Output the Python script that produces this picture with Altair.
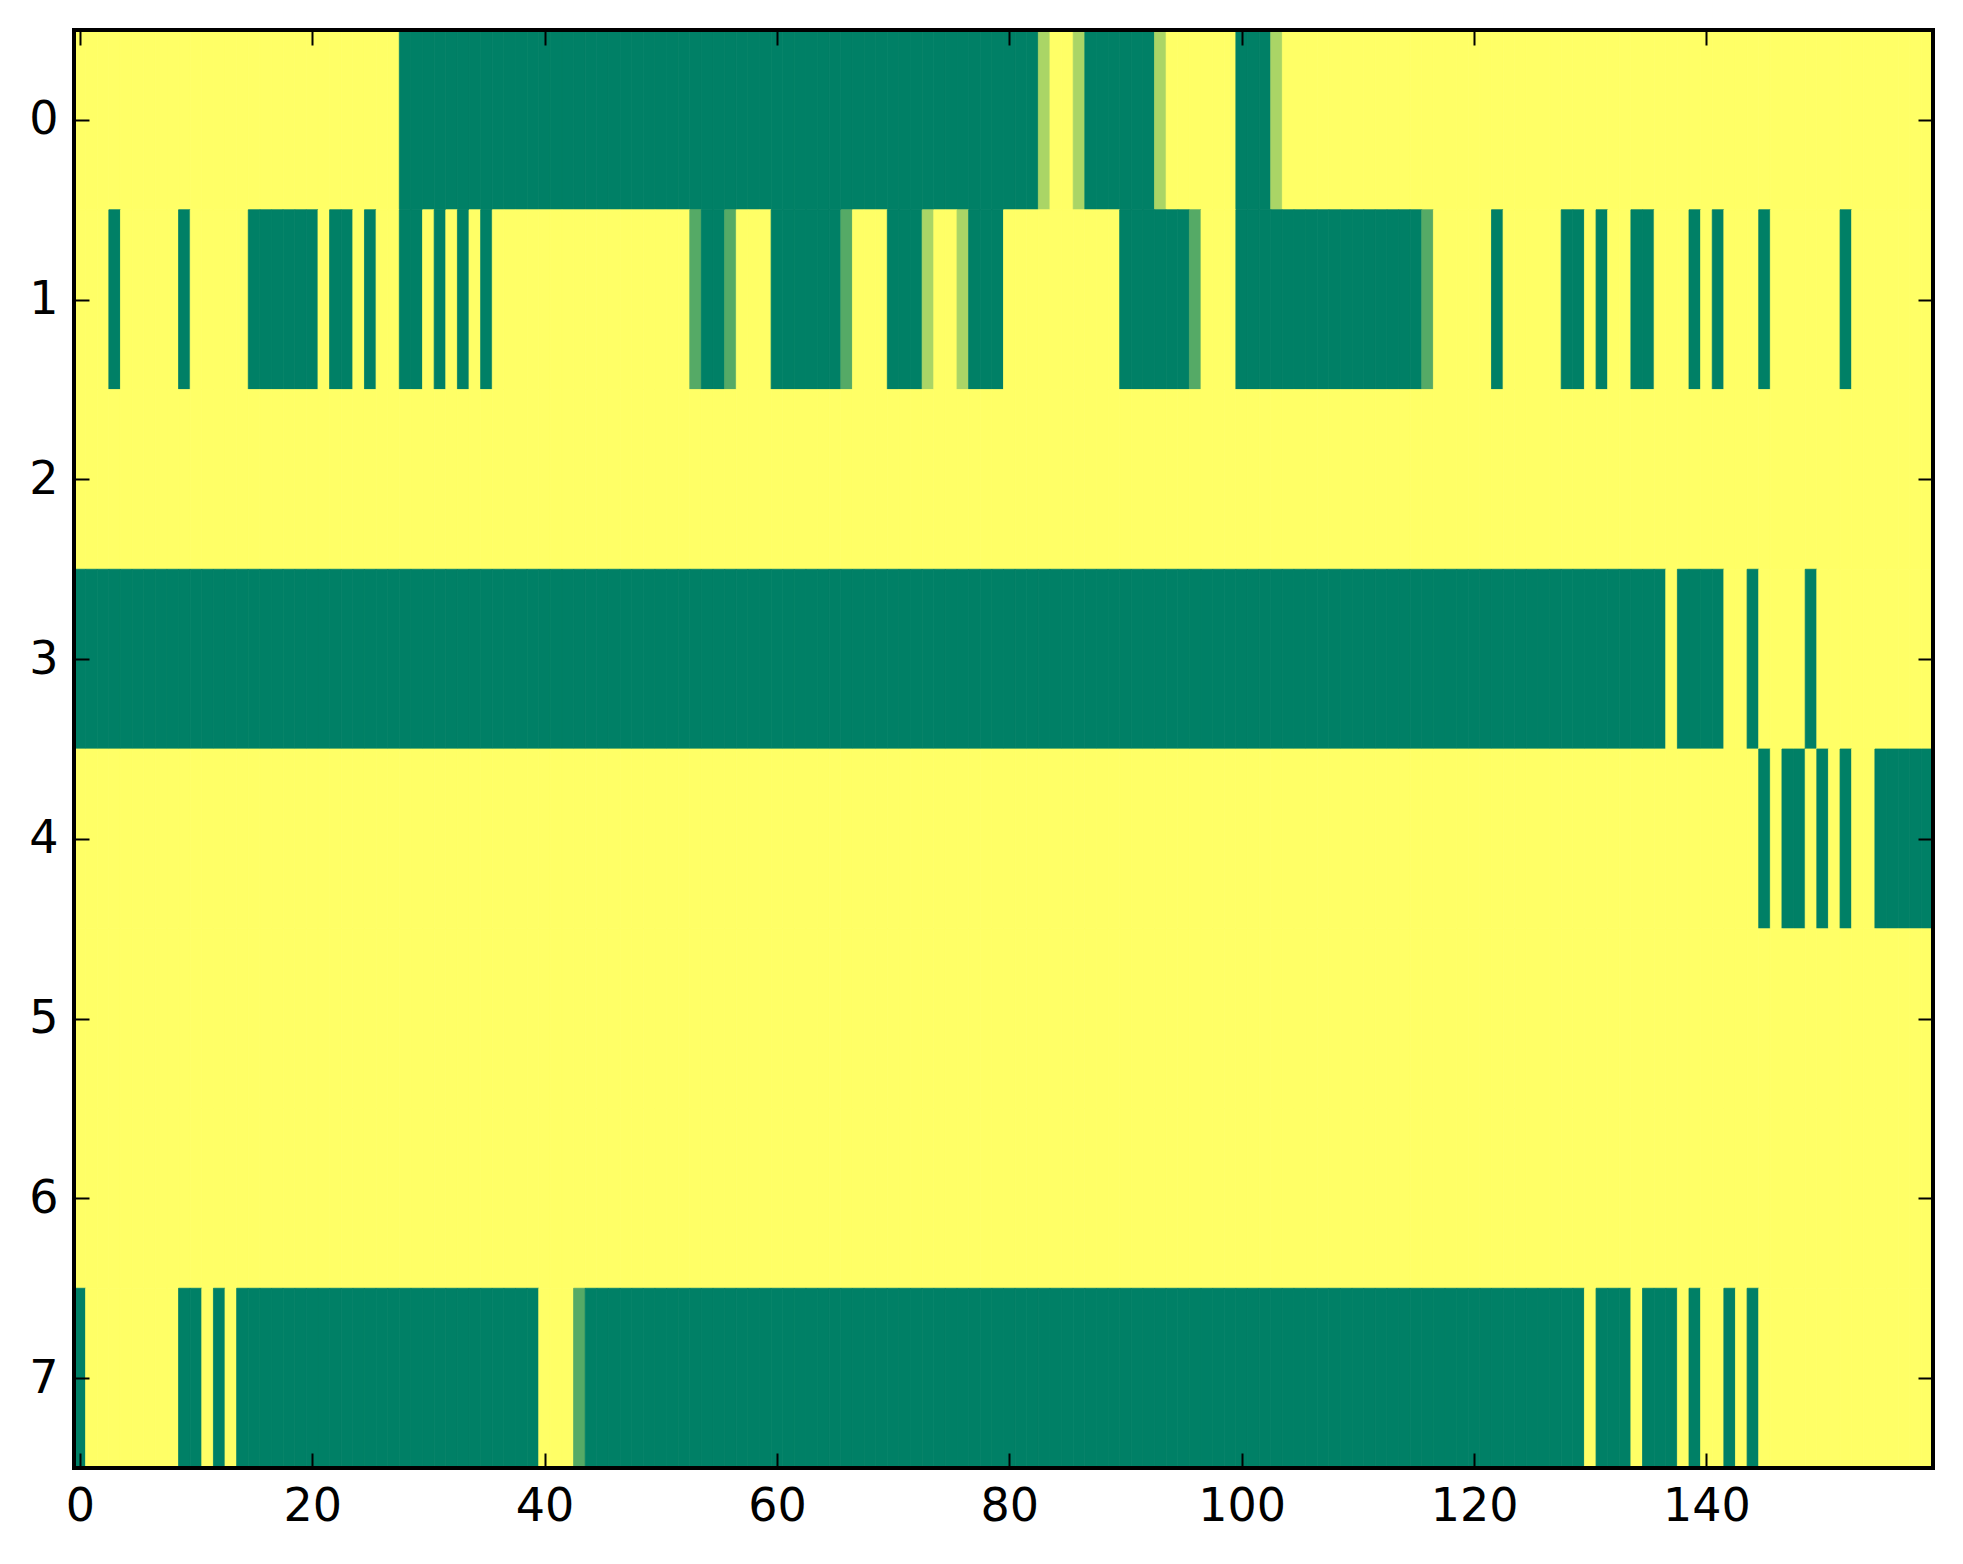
import altair as alt
import pandas as pd

# Cell levels, in thirds: 0 = dark green, 1 = mid green,
# 2 = light green, 3 = yellow.  Ten columns per group, 160 columns per row.
row_0 = ("3333333333 3333333333 3333333300 0000000000 0000000000 0000000000 "
         "0000000000 0000000000 0002332000 0002333333 0002333333 3333333333 "
         "3333333333 3333333333 3333333333 3333333333")
row_1 = ("3330333330 3333300000 0300303300 3030303333 3333333333 3331001333 "
         "0000001333 0002332000 3333333333 0000001333 0000000000 0000001333 "
         "3303333300 3033003330 3033303333 3303333333")
row_2 = ("3333333333 3333333333 3333333333 3333333333 3333333333 3333333333 "
         "3333333333 3333333333 3333333333 3333333333 3333333333 3333333333 "
         "3333333333 3333333333 3333333333 3333333333")
row_3 = ("0000000000 0000000000 0000000000 0000000000 0000000000 0000000000 "
         "0000000000 0000000000 0000000000 0000000000 0000000000 0000000000 "
         "0000000000 0000000300 0033033330 3333333333")
row_4 = ("3333333333 3333333333 3333333333 3333333333 3333333333 3333333333 "
         "3333333333 3333333333 3333333333 3333333333 3333333333 3333333333 "
         "3333333333 3333333333 3333303003 0303300000")
row_5 = ("3333333333 3333333333 3333333333 3333333333 3333333333 3333333333 "
         "3333333333 3333333333 3333333333 3333333333 3333333333 3333333333 "
         "3333333333 3333333333 3333333333 3333333333")
row_6 = ("3333333333 3333333333 3333333333 3333333333 3333333333 3333333333 "
         "3333333333 3333333333 3333333333 3333333333 3333333333 3333333333 "
         "3333333333 3333333333 3333333333 3333333333")
row_7 = ("0333333330 0303000000 0000000000 0000000000 3331000000 0000000000 "
         "0000000000 0000000000 0000000000 0000000000 0000000000 0000000000 "
         "0000000000 3000300030 3303033333 3333333333")

rows = [row_0, row_1, row_2, row_3, row_4, row_5, row_6, row_7]
x_ticks = [0, 20, 40, 60, 80, 100, 120, 140]
y_ticks = [0, 1, 2, 3, 4, 5, 6, 7]
colormap = ["#008066", "#ffff66"]

records = []
for r, s in enumerate(rows):
    for c, ch in enumerate(s.replace(" ", "")):
        records.append({"row": r, "col": c, "value": int(ch) / 3})
df = pd.DataFrame(records)

W, H = 1859, 1438
FONT = "DejaVu Sans"
FS = 46
TL = 15

x_scale = alt.Scale(domain=[-0.5, 159.5], nice=False, zero=False)
y_scale = alt.Scale(domain=[-0.5, 7.5], nice=False, zero=False, reverse=True)
c_scale = alt.Scale(domain=[0, 1], range=colormap, interpolate="rgb")


def axis(orient, values, labels):
    kw = dict(
        orient=orient, values=values, tickSize=TL, offset=-TL, domain=False,
        grid=False, tickColor="black", tickWidth=2, title=None, zindex=2,
        labels=labels,
    )
    if labels:
        kw.update(labelFont=FONT, labelFontSize=FS, labelColor="black",
                  labelPadding=16, labelFlush=False, labelOverlap=False,
                  labelBound=False)
    return alt.Axis(**kw)


heat = alt.Chart(df).transform_calculate(
    x0="datum.col - 0.5", x1="datum.col + 0.5",
    y0="datum.row - 0.5", y1="datum.row + 0.5",
).mark_rect(strokeWidth=0.8).encode(
    x=alt.X("x0:Q", scale=x_scale, axis=axis("bottom", x_ticks, True)),
    x2="x1:Q",
    y=alt.Y("y0:Q", scale=y_scale, axis=axis("left", y_ticks, True)),
    y2="y1:Q",
    color=alt.Color("value:Q", scale=c_scale, legend=None),
    stroke=alt.Stroke("value:Q", scale=c_scale, legend=None),
)

ticks_tr = alt.Chart(pd.DataFrame({"col": [0], "row": [0]})).mark_point(opacity=0).encode(
    x=alt.X("col:Q", scale=x_scale, axis=axis("top", x_ticks, False)),
    y=alt.Y("row:Q", scale=y_scale, axis=axis("right", y_ticks, False)),
)

# black frame drawn over the cells (spines)
frame = alt.Chart(pd.DataFrame({"k": [0]})).mark_rect(
    fillOpacity=0, stroke="black", strokeWidth=4
).encode(
    x=alt.value(0), x2=alt.value(W), y=alt.value(0), y2=alt.value(H)
)

chart = alt.layer(heat, ticks_tr, frame).resolve_axis(
    x="independent", y="independent"
).properties(
    width=W, height=H,
    padding={"left": 20, "top": 20, "right": 10, "bottom": 10},
).configure_view(stroke=None)

chart.save("out.html", embed_options={"renderer": "svg", "actions": False})
